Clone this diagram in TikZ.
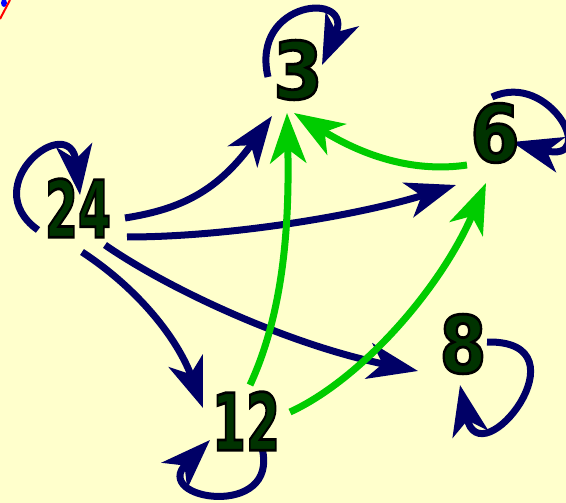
\documentclass[tikz,border=0pt]{standalone}
\usepackage{fontspec}
\usetikzlibrary{arrows.meta}
\newfontfamily\numfont{DejaVu Sans}[FakeBold=3.5, BoldFeatures={FakeBold=3.5}]
\definecolor{bg}{HTML}{FFFFCC}
\definecolor{navy}{HTML}{000066}
\definecolor{grn}{HTML}{00CC00}
\definecolor{numfill}{HTML}{003300}
\newcommand{\numtxt}[2]{\scalebox{#1}[1]{\special{pdf:literal 0 0 0 RG}#2}}
\begin{document}
\begin{tikzpicture}[x=1pt,y=-1pt,
  num/.style={text=numfill, inner sep=0pt, font=\numfont\bfseries\fontsize{79}{79}\selectfont},
  headtip/.style={-{Stealth[length=50pt,width=36pt,inset=14pt]}},
  nav/.style={draw=navy, line width=7pt, headtip},
  grnline/.style={draw=grn, line width=7pt, headtip}]
\fill[bg] (0,0) rectangle (566,503);
\useasboundingbox (0,0) rectangle (566,503);
% corner fragment
\fill[blue] (4,3) ellipse (3 and 4);
\draw[red, line width=2pt] (0,19) -- (10,0);
% node positions
\coordinate (n3) at (298,70);
\coordinate (n24) at (78,208);
\coordinate (n6) at (495,133);
\coordinate (n8) at (463,344);
\coordinate (n12) at (246,421);
% self loops
\draw[nav] ([shift={(-30,7)}]n3) .. controls (250,0) and (355,-10) .. ([shift={(24,-5)}]n3);
\draw[nav] ([shift={(-40,22)}]n24) .. controls (-25,185) and (70,110) .. ([shift={(2,-13)}]n24);
\draw[nav] ([shift={(-3,-36)}]n6) .. controls (550,70) and (600,165) .. ([shift={(17,9)}]n6);
\draw[nav] ([shift={(24,-2)}]n8) .. controls (590,340) and (480,480) .. ([shift={(-3,41)}]n8);
\draw[nav] ([shift={(16,27)}]n12) .. controls (280,520) and (150,500) .. ([shift={(-36,19)}]n12);
% navy connectors
\draw[nav] ([shift={(47,10)}]n24) .. controls (175,210) and (215,195) .. ([shift={(-26,46)}]n3);
\draw[nav] ([shift={(49,29)}]n24) .. controls (230,237) and (360,215) .. ([shift={(-39,52)}]n6);
\draw[nav] ([shift={(4,44)}]n24) .. controls (140,290) and (178,340) .. ([shift={(-43,-13)}]n12);
\draw[nav] ([shift={(27,37)}]n24) .. controls (170,290) and (290,345) .. ([shift={(-45,27)}]n8);
% green connectors
\draw[grnline] ([shift={(4,-36)}]n12) .. controls (280,320) and (290,240) .. ([shift={(-11,43)}]n3);
\draw[grnline] ([shift={(44,-9)}]n12) .. controls (360,380) and (440,290) .. ([shift={(-9,50)}]n6);
\draw[grnline] ([shift={(-28,32)}]n6) .. controls (420,172) and (370,160) .. ([shift={(-4,43)}]n3);
% numbers on top
\node[num] (t3) at (n3) {\numtxt{0.9}{3}};
\node[num] (t24) at (n24) {\numtxt{0.6}{24}};
\node[num] (t6) at (n6) {\numtxt{0.9}{6}};
\node[num] (t8) at (n8) {\numtxt{0.85}{8}};
\node[num] (t12) at (n12) {\numtxt{0.62}{12}};
\end{tikzpicture}
\end{document}
